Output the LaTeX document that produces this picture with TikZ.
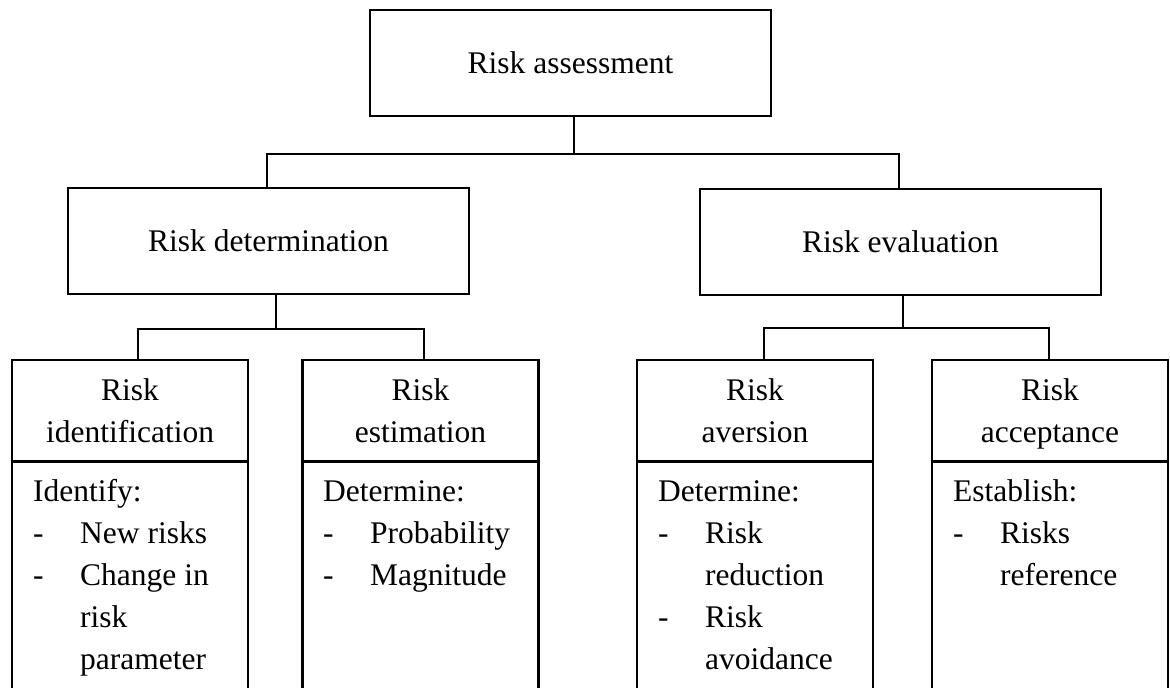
\documentclass[tikz,border=0pt]{standalone}
\usepackage{fontspec}
\setmainfont{Liberation Serif}
\usetikzlibrary{positioning,calc}

\newcommand{\dashitem}[1]{\makebox[47pt][l]{-}#1}
\newcommand{\hangitem}[1]{\hspace*{47pt}#1}

\begin{document}
\begin{tikzpicture}[x=1pt, y=-1pt,
    box/.style={rectangle, draw, line width=2.4pt, inner sep=0pt, font=\fontsize{31.5}{42}\selectfont},
    txt/.style={anchor=base west, inner sep=0pt, font=\fontsize{31.5}{42}\selectfont},
    wire/.style={line width=2.4pt}]
    \path[use as bounding box, fill=white] (0,0) rectangle (1170,688);

    % Level 0
    \node[box, minimum width=401pt, minimum height=106pt] (ra) at (570.5, 63) {Risk assessment};

    % Level 1
    \node[box, minimum width=401pt, minimum height=106pt] (rd) at (268.5, 241) {Risk determination};
    \node[box, minimum width=401pt, minimum height=106pt] (re) at (900.5, 242) {Risk evaluation};

    % Level 2 (header + body)
    \foreach \i/\cx/\head in {1/130/{Risk\\identification}, 2/420.5/{Risk\\estimation},
                              3/755/{Risk\\aversion}, 4/1050/{Risk\\acceptance}} {
        \node[box, minimum width=236pt, minimum height=101pt, align=center, text depth=0pt] (h\i) at (\cx, 410.5) {\head};
        \node[box, minimum width=236pt, minimum height=260pt, anchor=north] (b\i) at (\cx, 461) {};
    }

    % body texts
    \foreach \t [count=\k] in {Identify:, \dashitem{New risks}, \dashitem{Change in}, \hangitem{risk}, \hangitem{parameter}}
        \node[txt] (ta\k) at (33, {501+42*(\k-1)}) {\t};
    \foreach \t [count=\k] in {Determine:, \dashitem{Probability}, \dashitem{Magnitude}}
        \node[txt] (tb\k) at (323, {501+42*(\k-1)}) {\t};
    \foreach \t [count=\k] in {Determine:, \dashitem{Risk}, \hangitem{reduction}, \dashitem{Risk}, \hangitem{avoidance}}
        \node[txt] (tc\k) at (658, {501+42*(\k-1)}) {\t};
    \foreach \t [count=\k] in {Establish:, \dashitem{Risks}, \hangitem{reference}}
        \node[txt] (td\k) at (953, {501+42*(\k-1)}) {\t};

    % Connectors
    \draw[wire] ([xshift=3.5pt]ra.south) -- ++(0,37) coordinate (j0);
    \draw[wire] (j0) -| ([xshift=-1.5pt]rd.north);
    \draw[wire] (j0) -| ([xshift=-1.5pt]re.north);

    \draw[wire] ([xshift=7.5pt]rd.south) -- ++(0,34) coordinate (j1);
    \draw[wire] (j1) -| ([xshift=8pt]h1.north);
    \draw[wire] (j1) -| ([xshift=3.5pt]h2.north);

    \draw[wire] ([xshift=2.5pt]re.south) -- ++(0,32) coordinate (j2);
    \draw[wire] (j2) -| ([xshift=9pt]h3.north);
    \draw[wire] (j2) -| ([xshift=-1pt]h4.north);
\end{tikzpicture}
\end{document}
